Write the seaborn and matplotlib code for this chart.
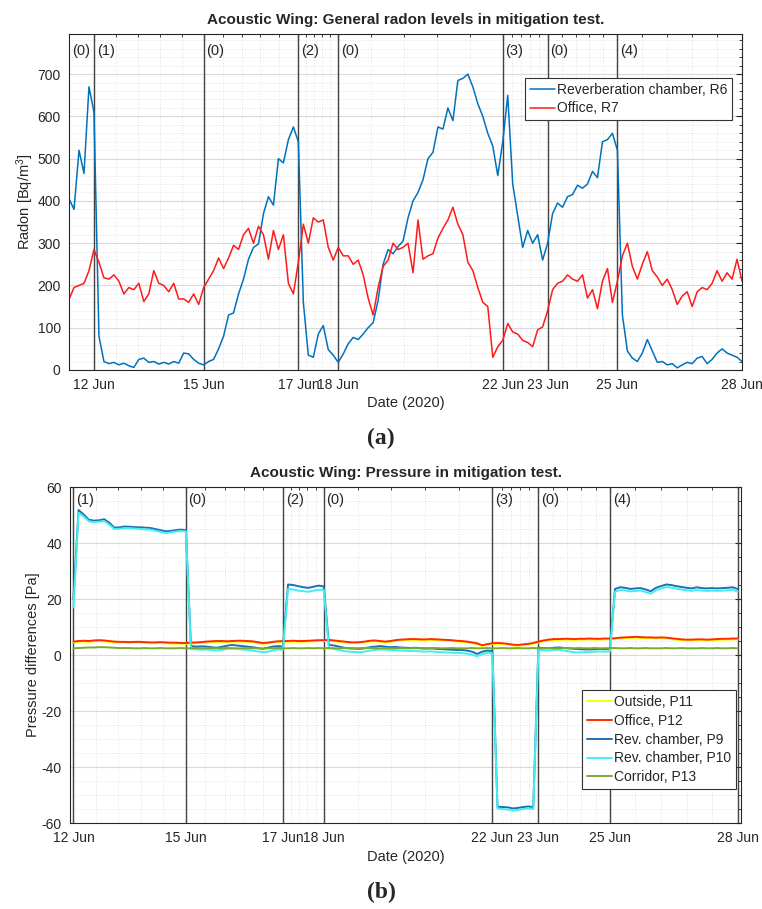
import numpy as np
import pandas as pd
import matplotlib
matplotlib.use("Agg")
import matplotlib.pyplot as plt
import matplotlib.dates as mdates
import matplotlib.transforms as mtransforms
import seaborn as sns

# radon, Bq/m3, 3-hourly from 11 Jun 18:00
radon_start = "2020-06-11 18:00"
r6_reverb = [405, 380, 520, 465, 670, 610, 80, 20, 15, 18,
             12, 16, 10, 6, 25, 28, 18, 20, 14, 18,
             14, 20, 16, 40, 38, 25, 16, 12, 20, 25,
             50, 80, 130, 135, 180, 215, 262, 290, 298, 370,
             410, 390, 500, 490, 545, 575, 540, 160, 35, 30,
             85, 105, 48, 35, 18, 38, 62, 77, 72, 85,
             100, 112, 165, 250, 285, 275, 292, 305, 360, 400,
             420, 450, 500, 515, 575, 570, 620, 590, 685, 690,
             700, 670, 630, 600, 560, 530, 460, 540, 650, 440,
             365, 290, 330, 300, 320, 260, 300, 370, 395, 385,
             410, 415, 437, 430, 440, 470, 455, 540, 545, 560,
             520, 130, 45, 28, 20, 40, 72, 45, 18, 20,
             12, 15, 5, 12, 18, 15, 28, 32, 15, 25,
             40, 50, 40, 35, 30, 20]
r7_office = [167, 195, 200, 205, 235, 285, 255, 218, 215, 225,
             210, 180, 195, 190, 205, 162, 180, 235, 205, 200,
             185, 205, 168, 168, 160, 180, 155, 195, 215, 235,
             265, 240, 265, 295, 285, 320, 335, 300, 340, 320,
             262, 330, 285, 320, 205, 180, 255, 345, 300, 360,
             350, 355, 290, 260, 290, 270, 270, 250, 260, 225,
             170, 130, 195, 245, 260, 300, 285, 290, 300, 230,
             355, 262, 270, 275, 312, 335, 355, 385, 345, 320,
             255, 235, 195, 160, 150, 30, 55, 70, 110, 90,
             85, 70, 65, 55, 95, 102, 140, 190, 205, 210,
             225, 215, 210, 225, 170, 190, 145, 210, 240, 160,
             210, 270, 300, 245, 215, 250, 280, 235, 220, 200,
             215, 190, 155, 175, 185, 150, 185, 195, 190, 205,
             235, 210, 230, 215, 262, 210]

# pressure differences, Pa, 3-hourly from 12 Jun 09:00
pressure_start = "2020-06-12 09:00"
p11_outside = [4.5, 4.7, 4.8, 4.7, 4.9, 5.0, 4.9, 4.7, 4.5, 4.4, 4.4, 4.3, 4.4, 4.4, 4.3, 4.2, 4.2, 4.3, 4.2, 4.1, 4.1, 4.0, 4.0,
               4.1, 4.2, 4.3, 4.5, 4.6, 4.7, 4.7, 4.6, 4.7, 4.8, 4.8, 4.7, 4.6, 4.3, 4.0, 4.1, 4.4, 4.6, 4.7,
               4.7, 4.8, 4.7, 4.7, 4.8, 4.9, 5.0, 5.0,
               5.1, 4.9, 4.7, 4.5, 4.3, 4.2, 4.3, 4.5, 4.8, 4.9, 4.7, 4.5, 4.7, 5.0, 5.2, 5.3, 5.4, 5.4, 5.3, 5.3,
               5.4, 5.3, 5.2, 5.1, 5.0, 4.8, 4.7, 4.5, 4.2, 3.9, 3.2, 3.6, 3.9,
               4.0, 3.9, 3.7, 3.4, 3.3, 3.5, 3.7, 4.0,
               4.5, 4.9, 5.2, 5.4, 5.4, 5.5, 5.5, 5.4, 5.5, 5.5, 5.6, 5.5, 5.5, 5.6, 5.6,
               5.7, 5.9, 6.0, 6.1, 6.2, 6.1, 6.0, 6.0, 5.9, 6.0, 5.9, 5.7, 5.5, 5.3, 5.2, 5.2, 5.3, 5.3, 5.2, 5.3,
               5.4, 5.5, 5.5, 5.6, 5.6]
p12_office = [4.8, 5.0, 5.1, 5.0, 5.2, 5.3, 5.2, 5.0, 4.8, 4.7, 4.7, 4.6, 4.7, 4.7, 4.6, 4.5, 4.5, 4.6, 4.5, 4.4, 4.4, 4.3, 4.3,
              4.4, 4.5, 4.6, 4.8, 4.9, 5.0, 5.0, 4.9, 5.0, 5.1, 5.1, 5.0, 4.9, 4.6, 4.3, 4.4, 4.7, 4.9, 5.0,
              5.0, 5.1, 5.0, 5.0, 5.1, 5.2, 5.3, 5.3,
              5.4, 5.2, 5.0, 4.8, 4.6, 4.5, 4.6, 4.8, 5.1, 5.2, 5.0, 4.8, 5.0, 5.3, 5.5, 5.6, 5.7, 5.7, 5.6, 5.6,
              5.7, 5.6, 5.5, 5.4, 5.3, 5.1, 5.0, 4.8, 4.5, 4.2, 3.5, 3.9, 4.2,
              4.3, 4.2, 4.0, 3.7, 3.6, 3.8, 4.0, 4.3,
              4.8, 5.2, 5.5, 5.7, 5.7, 5.8, 5.8, 5.7, 5.8, 5.8, 5.9, 5.8, 5.8, 5.9, 5.9,
              6.0, 6.2, 6.3, 6.4, 6.5, 6.4, 6.3, 6.3, 6.2, 6.3, 6.2, 6.0, 5.8, 5.6, 5.5, 5.5, 5.6, 5.6, 5.5, 5.6,
              5.7, 5.8, 5.8, 5.9, 5.9]
p9_reverb = [20, 51.8, 50.2, 48.3, 48.0, 48.1, 48.5, 47.3, 45.5, 45.6, 45.9, 45.8, 45.7, 45.6, 45.5, 45.4, 45.0, 44.6, 44.2, 44.3,
             44.6, 44.8, 44.6,
             3.2, 3.0, 3.1, 3.0, 2.8, 2.6, 2.9, 3.3, 3.6, 3.4, 3.2, 3.0, 2.8, 2.5, 2.2, 2.6, 3.0, 3.2, 3.0,
             25.2, 25.0, 24.6, 24.2, 24.0, 24.4, 24.8, 24.5,
             3.6, 3.4, 3.0, 2.6, 2.4, 2.3, 2.2, 2.4, 2.8, 3.0, 3.2, 3.0, 2.8, 2.9, 2.7, 2.6, 2.5, 2.6, 2.4, 2.3,
             2.4, 2.2, 2.1, 2.0, 1.9, 1.8, 1.8, 1.6, 1.2, 0.4, 1.2, 1.6, 1.4,
             -54.2, -54.3, -54.4, -54.8, -54.6, -54.3, -54.1, -54.3,
             2.6, 2.5, 2.4, 2.6, 2.7, 2.5, 2.4, 2.2, 2.1, 2.0, 2.0, 2.1, 2.2, 2.1, 2.2,
             23.6, 24.2, 24.0, 23.6, 23.8, 23.9, 23.4, 22.8, 24.0, 24.6, 25.2, 25.0, 24.6, 24.3, 24.0, 23.8, 24.2,
             23.9, 23.8, 23.9, 23.8, 23.9, 24.0, 24.2, 23.6]
p10_reverb = [17, 50.8, 49.5, 47.8, 47.5, 47.6, 47.9, 46.6, 45.0, 45.1, 45.3, 45.3, 45.2, 45.0, 44.9, 44.8, 44.4, 44.0, 43.6, 43.8,
              44.1, 44.3, 44.2,
              2.2, 2.0, 1.9, 2.0, 1.8, 1.6, 1.8, 2.2, 2.4, 2.2, 2.0, 1.8, 1.6, 1.3, 1.0, 1.2, 1.6, 2.0, 1.9,
              23.6, 23.4, 23.0, 22.8, 22.6, 23.0, 23.3, 23.2,
              2.4, 2.2, 1.8, 1.4, 1.2, 1.1, 1.0, 1.2, 1.6, 1.8, 2.0, 1.9, 1.7, 1.8, 1.6, 1.5, 1.4, 1.5, 1.3, 1.2,
              1.3, 1.1, 1.0, 0.9, 0.8, 0.8, 0.7, 0.5, 0.1, -0.4, 0.3, 0.8, 0.6,
              -54.8, -55.0, -55.2, -55.6, -55.3, -55.0, -54.8, -55.0,
              1.8, 1.7, 1.6, 1.8, 1.9, 1.6, 1.3, 1.0, 0.9, 1.0, 1.1, 1.2, 1.3, 1.2, 1.3,
              22.6, 23.2, 23.1, 22.7, 22.9, 23.0, 22.5, 21.9, 23.1, 23.7, 24.3, 24.1, 23.7, 23.4, 23.1, 22.9, 23.3,
              23.0, 22.9, 23.0, 22.9, 23.0, 23.1, 23.3, 22.7]
p13_corridor = [2.4, 2.5, 2.6, 2.7, 2.7, 2.8, 2.8, 2.7, 2.6, 2.5, 2.5, 2.5, 2.4, 2.4, 2.5, 2.4, 2.4, 2.5, 2.4, 2.4, 2.4, 2.5, 2.4,
                2.4, 2.5, 2.4, 2.4, 2.5, 2.4, 2.4, 2.5, 2.4, 2.4, 2.4, 2.5, 2.4, 2.4, 2.3, 2.4, 2.4, 2.5, 2.4,
                2.4, 2.5, 2.4, 2.4, 2.5, 2.4, 2.5, 2.4,
                2.5, 2.4, 2.4, 2.5, 2.4, 2.4, 2.4, 2.5, 2.5, 2.4, 2.4, 2.5, 2.4, 2.4, 2.5, 2.4, 2.4, 2.5, 2.4, 2.4,
                2.4, 2.5, 2.4, 2.4, 2.5, 2.4, 2.4, 2.4, 2.5, 2.4, 2.4, 2.5, 2.4,
                2.4, 2.5, 2.4, 2.4, 2.5, 2.4, 2.4, 2.5,
                2.4, 2.4, 2.5, 2.4, 2.4, 2.5, 2.4, 2.4, 2.5, 2.4, 2.4, 2.5, 2.4, 2.4, 2.5,
                2.5, 2.4, 2.4, 2.5, 2.4, 2.4, 2.5, 2.4, 2.4, 2.4, 2.5, 2.4, 2.4, 2.5, 2.4, 2.4, 2.4, 2.5, 2.4, 2.4,
                2.5, 2.4, 2.4, 2.5, 2.4]

# stage changes of the test
phase_changes = ["2020-06-12 09:00", "2020-06-15 03:00", "2020-06-17 12:00", "2020-06-18 12:00",
                 "2020-06-22 15:00", "2020-06-23 18:00", "2020-06-25 12:00", "2020-06-28 15:00"]
radon_phases = ["(0)", "(1)", "(0)", "(2)", "(0)", "(3)", "(0)", "(4)"]
pressure_phases = ["(1)", "(0)", "(2)", "(0)", "(3)", "(0)", "(4)"]

radon_names = ["Reverberation chamber, R6", "Office, R7"]
radon_colors = ["#0072BD", "#FF1A1A"]
pressure_names = ["Outside, P11", "Office, P12", "Rev. chamber, P9", "Rev. chamber, P10", "Corridor, P13"]
pressure_colors = ["#FFFF00", "#FF2A00", "#1F6FB5", "#3FF0F0", "#77AC30"]

sns.set_style("white")
plt.rcParams["font.family"] = ["Liberation Sans", "DejaVu Sans"]
plt.rcParams["mathtext.default"] = "regular"
plt.rcParams["axes.unicode_minus"] = False
FS = 10

t_r = pd.date_range(radon_start, periods=len(r6_reverb), freq="3h")
radon = pd.DataFrame({"time": t_r, radon_names[0]: r6_reverb, radon_names[1]: r7_office})
radon = radon.melt("time", var_name="sensor", value_name="val")

t_p = pd.date_range(pressure_start, periods=len(p9_reverb), freq="3h")
press = pd.DataFrame({"time": t_p, pressure_names[0]: p11_outside, pressure_names[1]: p12_office,
                      pressure_names[2]: p9_reverb, pressure_names[3]: p10_reverb,
                      pressure_names[4]: p13_corridor})
press = press.melt("time", var_name="sensor", value_name="val")

changes = pd.to_datetime(phase_changes)
change_num = mdates.date2num(changes)
minor = np.concatenate([np.linspace(a, b, 6)[1:-1] for a, b in zip(change_num[:-1], change_num[1:])])


def style_axes(ax):
    ax.set_xticks(change_num)
    ax.xaxis.set_major_formatter(mdates.DateFormatter("%d %b"))
    ax.set_xticks(minor, minor=True)
    ax.grid(which="major", color="#d9d9d9", lw=0.8)
    ax.grid(which="minor", color="#e2e2e2", ls=":", lw=0.7)
    ax.tick_params(which="both", direction="in", top=True, right=True, labelsize=FS, colors="#262626")
    ax.tick_params(which="major", length=4, pad=6)
    ax.tick_params(which="minor", length=2)
    for s in ax.spines.values():
        s.set_color("#262626")
        s.set_linewidth(0.8)
    ax.set_axisbelow(True)


def add_legend(ax, anchor):
    h, l = ax.get_legend_handles_labels()
    leg = ax.legend(h, l, loc="upper right", bbox_to_anchor=anchor, borderaxespad=0, fancybox=False,
                    edgecolor="#333333", framealpha=1, handlelength=1.8, handletextpad=0.15, borderpad=0.35,
                    labelspacing=0.35, fontsize=FS)
    leg.get_frame().set_linewidth(0.8)


fig = plt.figure(figsize=(7.62, 9.09), dpi=100)
ax1 = fig.add_axes([0.0906, 0.593, 0.8832, 0.3696])
ax2 = fig.add_axes([0.0919, 0.0946, 0.8806, 0.3696])

# (a) radon
sns.lineplot(data=radon, x="time", y="val", hue="sensor", palette=radon_colors,
             estimator=None, lw=1.1, ax=ax1)
style_axes(ax1)
ax1.set_xlim(t_r[0], t_r[-1])
ax1.set_ylim(0, 795)
ax1.set_yticks(range(0, 701, 100))
ax1.set_yticks(range(0, 781, 20), minor=True)
for t in change_num[:-1]:
    ax1.axvline(t, color="#444444", lw=1.0, zorder=1.5)
trans1 = mtransforms.blended_transform_factory(ax1.transData, ax1.transAxes)
label_pos1 = [mdates.date2num(t_r[0])] + list(change_num[:-1])
for t, lab in zip(label_pos1, radon_phases):
    ax1.annotate(lab, (t, 1), xycoords=trans1, xytext=(2, -12), textcoords="offset points",
                 va="center", ha="left", fontsize=FS + 0.5)
ax1.set_title("Acoustic Wing: General radon levels in mitigation test.", fontsize=FS + 1, fontweight="bold", pad=7)
ax1.set_xlabel("Date (2020)", fontsize=FS + 0.5, labelpad=3)
ax1.set_ylabel("Radon [Bq/m$^3$]", fontsize=FS + 0.5, labelpad=1)
add_legend(ax1, (0.985, 0.87))

# (b) pressure
sns.lineplot(data=press, x="time", y="val", hue="sensor", palette=pressure_colors,
             estimator=None, lw=1.4, ax=ax2)
style_axes(ax2)
ax2.set_xlim(t_p[0] - pd.Timedelta(hours=2), t_p[-1] + pd.Timedelta(hours=2))
ax2.set_ylim(-60, 60)
ax2.set_yticks(range(-60, 61, 20))
ax2.set_yticks(range(-60, 61, 5), minor=True)
for t in change_num:
    ax2.axvline(t, color="#444444", lw=1.0, zorder=1.5)
trans2 = mtransforms.blended_transform_factory(ax2.transData, ax2.transAxes)
for t, lab in zip(change_num[:-1], pressure_phases):
    ax2.annotate(lab, (t, 1), xycoords=trans2, xytext=(2, -9.5), textcoords="offset points",
                 va="center", ha="left", fontsize=FS + 0.5)
ax2.set_title("Acoustic Wing: Pressure in mitigation test.", fontsize=FS + 1, fontweight="bold", pad=7)
ax2.set_xlabel("Date (2020)", fontsize=FS + 0.5, labelpad=3)
ax2.set_ylabel("Pressure differences [Pa]", fontsize=FS + 0.5, labelpad=1)
add_legend(ax2, (0.993, 0.396))

fig.text(0.5, 1 - 438 / 909, "(a)", ha="center", va="center", fontsize=17,
         family="Liberation Serif", fontweight="bold")
fig.text(0.5, 1 - 892 / 909, "(b)", ha="center", va="center", fontsize=17,
         family="Liberation Serif", fontweight="bold")

fig.savefig("out.png", dpi=100)
